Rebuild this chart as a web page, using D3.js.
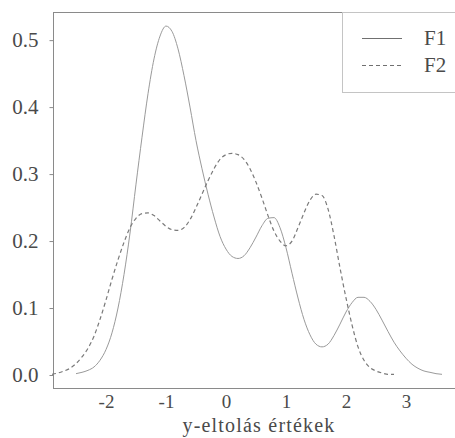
<!DOCTYPE html>
<html>
<head>
<meta charset="utf-8">
<script src="https://cdn.jsdelivr.net/npm/d3@7"></script>
<style>
  html, body { margin: 0; padding: 0; background: #fff; }
  svg { display: block; }
  svg text { font-family: "Liberation Serif", "DejaVu Serif", serif !important; fill: #4a4a4a; }
</style>
</head>
<body>
<svg id="chart" width="455" height="438"></svg>
<script>
// ---- data ----
const seriesNames = ["F1", "F2"];
const xTicks = [-2, -1, 0, 1, 2, 3];
const yTicks = [0.0, 0.1, 0.2, 0.3, 0.4, 0.5];
const xLabel = "y-eltolás értékek";

const xF1 = [-2.5,-2.4,-2.3,-2.2,-2.1,-2.0,-1.9,-1.8,-1.7,-1.6,-1.5,-1.4,-1.3,-1.2,-1.1,-1.0,-0.9,-0.8,-0.7,-0.6,-0.5,-0.4,-0.3,-0.2,-0.1,0.0,0.1,0.2,0.3,0.4,0.5,0.6,0.7,0.8,0.9,1.0,1.1,1.2,1.3,1.4,1.5,1.6,1.7,1.8,1.9,2.0,2.1,2.2,2.3,2.4,2.5,2.6,2.7,2.8,2.9,3.0,3.1,3.2,3.3,3.4,3.5,3.6];
const yF1 = [0.002,0.004,0.007,0.012,0.022,0.038,0.063,0.100,0.150,0.212,0.285,0.355,0.420,0.472,0.506,0.521,0.513,0.487,0.447,0.400,0.350,0.308,0.270,0.236,0.207,0.188,0.177,0.174,0.178,0.190,0.206,0.223,0.234,0.235,0.220,0.190,0.152,0.115,0.083,0.060,0.046,0.042,0.046,0.059,0.076,0.094,0.108,0.116,0.116,0.110,0.098,0.082,0.065,0.049,0.036,0.025,0.016,0.010,0.006,0.004,0.002,0.001];

const xF2 = [-2.9,-2.8,-2.7,-2.6,-2.5,-2.4,-2.3,-2.2,-2.1,-2.0,-1.9,-1.8,-1.7,-1.6,-1.5,-1.4,-1.3,-1.2,-1.1,-1.0,-0.9,-0.8,-0.7,-0.6,-0.5,-0.4,-0.3,-0.2,-0.1,0.0,0.1,0.2,0.3,0.4,0.5,0.6,0.7,0.8,0.9,1.0,1.1,1.2,1.3,1.4,1.5,1.6,1.7,1.8,1.9,2.0,2.1,2.2,2.3,2.4,2.5,2.6,2.7,2.8];
const yF2 = [0.001,0.003,0.006,0.010,0.017,0.027,0.040,0.058,0.083,0.112,0.143,0.172,0.198,0.220,0.234,0.241,0.242,0.238,0.230,0.222,0.217,0.216,0.220,0.232,0.250,0.270,0.290,0.308,0.322,0.329,0.331,0.329,0.322,0.308,0.288,0.264,0.238,0.215,0.200,0.193,0.200,0.220,0.242,0.261,0.270,0.268,0.248,0.208,0.160,0.115,0.075,0.042,0.022,0.011,0.006,0.003,0.001,0.001];

// ---- layout ----
const svg = d3.select("#chart");
const mLeft = 53, mRight = 461, mTop = 12, mBottom = 388;
const x = d3.scaleLinear().domain([-2.9, 3.9]).range([mLeft - 1, mRight - 1]);
const y = d3.scaleLinear().domain([-0.0194, 0.542]).range([mBottom, mTop]);

const frameColor = "#8a8a8a";
const fontStack = "'Liberation Serif', 'DejaVu Serif', serif";

// frame
svg.append("rect")
  .attr("x", mLeft + 0.5).attr("y", mTop + 0.5)
  .attr("width", mRight - mLeft).attr("height", mBottom - mTop)
  .attr("fill", "none").attr("stroke", frameColor).attr("stroke-width", 1);

// y axis
const yAxis = d3.axisLeft(y).tickValues(yTicks).tickFormat(d3.format(".1f")).tickSize(4).tickPadding(11);
const gy = svg.append("g").attr("transform", `translate(${mLeft + 0.5},0)`).call(yAxis);
gy.attr("font-family", fontStack);
gy.select(".domain").remove();
gy.selectAll(".tick line").attr("stroke", frameColor);
gy.selectAll(".tick text").attr("font-size", 21).attr("fill", "#4a4a4a");

// x axis labels (no tick marks)
const xAxis = d3.axisBottom(x).tickValues(xTicks).tickFormat(d => String(d)).tickSize(0).tickPadding(6);
const gx = svg.append("g").attr("transform", `translate(0,${mBottom + 0.5})`).call(xAxis);
gx.attr("font-family", fontStack);
gx.select(".domain").remove();
gx.selectAll(".tick line").remove();
gx.selectAll(".tick text").attr("font-size", 19).attr("fill", "#4a4a4a");

svg.append("text")
  .attr("x", 259).attr("y", 432)
  .attr("text-anchor", "middle")
  .attr("font-family", fontStack)
  .attr("font-size", 20)
  .attr("letter-spacing", 1.2)
  .text(xLabel);

// curves
const line = d3.line().x(d => x(d[0])).y(d => y(d[1])).curve(d3.curveMonotoneX);
const dataF1 = xF1.map((v, i) => [v, yF1[i]]);
const dataF2 = xF2.map((v, i) => [v, yF2[i]]);

svg.append("path").datum(dataF1)
  .attr("d", line).attr("fill", "none")
  .attr("stroke", "#9a9a9a").attr("stroke-width", 1);

svg.append("path").datum(dataF2)
  .attr("d", line).attr("fill", "none")
  .attr("stroke", "#7a7a7a").attr("stroke-width", 1.2)
  .attr("stroke-dasharray", "4,3");

// legend
const lg = svg.append("g");
lg.append("rect")
  .attr("x", 342.5).attr("y", mTop + 0.5)
  .attr("width", 130).attr("height", 80)
  .attr("fill", "#fff").attr("stroke", "#c4c4c4").attr("stroke-width", 1);
const styles = [
  { stroke: "#707070", dash: null, w: 1 },
  { stroke: "#707070", dash: "4,3", w: 1.2 }
];
seriesNames.forEach((name, i) => {
  const yy = 38 + i * 27;
  lg.append("line")
    .attr("x1", 362).attr("x2", 402).attr("y1", yy + 0.5).attr("y2", yy + 0.5)
    .attr("stroke", styles[i].stroke).attr("stroke-width", styles[i].w)
    .attr("stroke-dasharray", styles[i].dash);
  lg.append("text")
    .attr("x", 424).attr("y", yy + 7)
    .attr("font-family", fontStack)
    .attr("font-size", 21)
    .text(name);
});
</script>
</body>
</html>
